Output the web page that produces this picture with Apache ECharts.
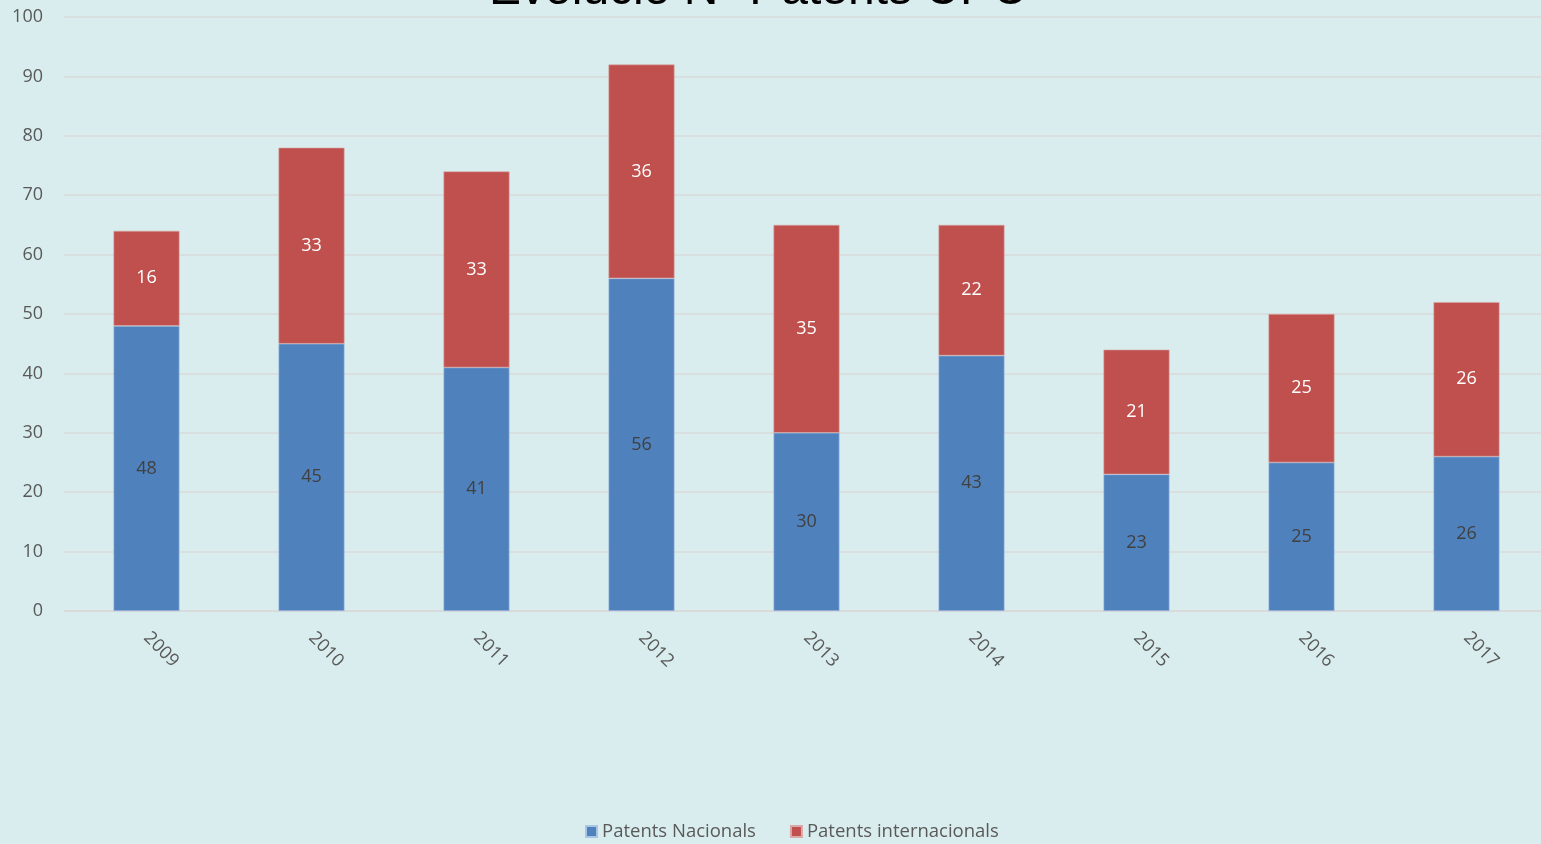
<!DOCTYPE html>
<html>
<head>
<meta charset="utf-8">
<script src="https://cdn.jsdelivr.net/npm/echarts@6/dist/echarts.min.js"></script>
<style>
html,body{margin:0;padding:0;background:#DAEDEE;}
#chart{width:1541px;height:844px;}
</style>
</head>
<body>
<div id="chart"></div>
<script>
const titleText = 'Evolució Nº Patents UPC';
const categories = ['2009','2010','2011','2012','2013','2014','2015','2016','2017'];
const nacionals = [48,45,41,56,30,43,23,25,26];
const internacionals = [16,33,33,36,35,22,21,25,26];
const seriesNames = ['Patents Nacionals','Patents internacionals'];

const chart = echarts.init(document.getElementById('chart'), null, {renderer:'canvas'});
const font = "'Open Sans', 'Noto Sans', sans-serif";
chart.setOption({
  backgroundColor:'#DAEDEE',
  animation:false,
  title:{
    text:titleText, left:484, top:-38,
    textStyle:{fontFamily:"'Liberation Sans', Arial, sans-serif", fontSize:48, fontWeight:'normal', color:'#000'}
  },
  legend:{
    bottom:-2, left:580, itemWidth:11, itemHeight:11, itemGap:34, icon:'rect',
    textStyle:{fontFamily:font, fontSize:18.5, color:'#595959'},
    data:seriesNames
  },
  grid:{left:64, width:1485, top:17, bottom:233, containLabel:false, outerBoundsMode:'none'},
  xAxis:{
    type:'category', data:categories,
    axisLine:{lineStyle:{color:'#D9D9D9', width:1.5}},
    axisTick:{show:false},
    axisLabel:{rotate:-45, margin:24, fontFamily:font, fontSize:18, color:'#595959'}
  },
  yAxis:{
    type:'value', min:0, max:100, interval:10,
    axisLine:{show:false}, axisTick:{show:false},
    splitLine:{lineStyle:{color:'#D9D9D9', width:1.5}},
    axisLabel:{fontFamily:font, fontSize:18, color:'#595959', margin:21}
  },
  series:[
    {name:seriesNames[0], type:'bar', stack:'a', data:nacionals, barWidth:66,
     itemStyle:{color:'#4F81BD', borderColor:'#A9C4E4', borderWidth:0.6},
     label:{show:true, position:'inside', fontFamily:font, fontSize:18, color:'#404040'}},
    {name:seriesNames[1], type:'bar', stack:'a', data:internacionals, barWidth:66,
     itemStyle:{color:'#C0504D', borderColor:'#D8A9A8', borderWidth:0.6},
     label:{show:true, position:'inside', fontFamily:font, fontSize:18, color:'#FFFFFF'}}
  ]
});
</script>
</body>
</html>
